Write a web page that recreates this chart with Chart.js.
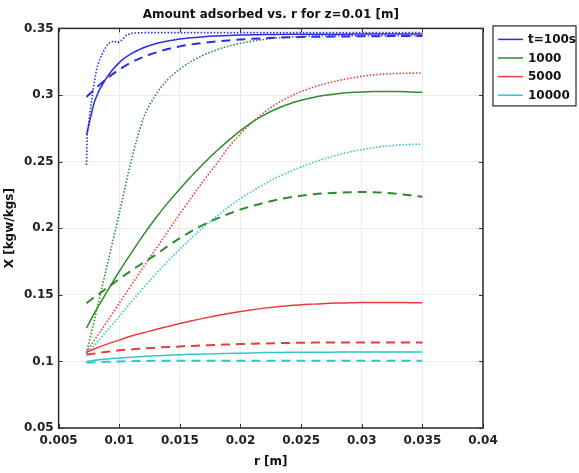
<!DOCTYPE html>
<html>
<head>
<meta charset="utf-8">
<script src="https://cdn.jsdelivr.net/npm/chart.js@4.4.0/dist/chart.umd.min.js"></script>
<style>
  html, body { margin: 0; padding: 0; background: #fff; }
  #container-grafico { width: 579px; height: 473px; }
</style>
</head>
<body>
<div id="container-grafico"><canvas id="grafico"></canvas></div>
<script>
// raio r [m] usado pela maioria das curvas
const raios = [0.0073, 0.008, 0.009, 0.010, 0.011, 0.012, 0.013, 0.014, 0.015, 0.016,
    0.017, 0.018, 0.019, 0.020, 0.021, 0.022, 0.023, 0.024, 0.025, 0.026,
    0.027, 0.028, 0.029, 0.030, 0.031, 0.032, 0.033, 0.034, 0.035];

// t=100s
const azulCheia = [0.270, 0.296, 0.3135, 0.3243, 0.331, 0.3355, 0.3385, 0.3405, 0.342, 0.343,
    0.3438, 0.3443, 0.3447, 0.345, 0.3452, 0.3454, 0.3455, 0.3456, 0.3457, 0.3457,
    0.3457, 0.3457, 0.3457, 0.3458, 0.3458, 0.3458, 0.3458, 0.3458, 0.3458];
const azulTracejada = [0.2985, 0.3045, 0.3125, 0.319, 0.3245, 0.3285, 0.3318, 0.3345, 0.3365, 0.338,
    0.3392, 0.3402, 0.341, 0.3417, 0.3422, 0.3426, 0.343, 0.3433, 0.3435, 0.3437,
    0.3438, 0.3439, 0.344, 0.3441, 0.3442, 0.3442, 0.3443, 0.3443, 0.3443];
// a pontilhada azul tem amostragem propria
const raiosAzulPontilhada = [0.0073, 0.00736, 0.0076, 0.00786, 0.00814, 0.0084, 0.00868, 0.0089, 0.0091, 0.0095,
    0.0099, 0.0102, 0.0106, 0.0111, 0.012, 0.014, 0.017, 0.020, 0.025, 0.030, 0.035];
const azulPontilhada = [0.2474, 0.270, 0.2874, 0.305, 0.320, 0.327, 0.3324, 0.336, 0.3387, 0.3404,
    0.3394, 0.3411, 0.3449, 0.3465, 0.3468, 0.3468, 0.3468, 0.3468, 0.3468, 0.3468, 0.3468];

// t=1000
const verdeCheia = [0.125, 0.137, 0.1525, 0.1675, 0.1815, 0.195, 0.2075, 0.219, 0.2295, 0.2395,
    0.249, 0.2578, 0.2658, 0.2732, 0.2798, 0.2853, 0.2897, 0.2932, 0.296, 0.2982,
    0.2998, 0.301, 0.3018, 0.3023, 0.3026, 0.3027, 0.3026, 0.3023, 0.302];
const verdeTracejada = [0.1437, 0.1485, 0.1552, 0.1618, 0.1682, 0.1742, 0.18, 0.1865, 0.1925, 0.198,
    0.2028, 0.207, 0.2107, 0.214, 0.2168, 0.2192, 0.2213, 0.223, 0.2243, 0.2254,
    0.2262, 0.2267, 0.227, 0.2271, 0.227, 0.2265, 0.2257, 0.2247, 0.2236];
const verdePontilhada = [0.106, 0.133, 0.172, 0.211, 0.251, 0.2825, 0.300, 0.3115, 0.3195, 0.3255,
    0.3302, 0.3338, 0.3366, 0.3388, 0.3405, 0.3418, 0.3428, 0.3435, 0.344, 0.3443,
    0.3445, 0.3445, 0.3445, 0.3445, 0.3445, 0.3445, 0.3445, 0.3445, 0.3445];

// t=5000
const vermelhaCheia = [0.107, 0.1095, 0.113, 0.116, 0.119, 0.1215, 0.124, 0.1262, 0.1285, 0.1305,
    0.1325, 0.1343, 0.136, 0.1375, 0.1388, 0.14, 0.141, 0.1418, 0.1425, 0.143,
    0.1435, 0.1438, 0.144, 0.1442, 0.1442, 0.1442, 0.1442, 0.1441, 0.144];
const vermelhaTracejada = [0.105, 0.106, 0.1072, 0.1083, 0.109, 0.1097, 0.1103, 0.1108, 0.1112, 0.1116,
    0.112, 0.1124, 0.1127, 0.113, 0.1132, 0.1135, 0.1137, 0.1139, 0.114, 0.1141,
    0.1142, 0.1142, 0.1142, 0.1142, 0.1142, 0.1142, 0.1142, 0.1142, 0.1142];
const vermelhaPontilhada = [0.107, 0.1165, 0.130, 0.1437, 0.1573, 0.1708, 0.1842, 0.1975, 0.2107, 0.2237,
    0.2362, 0.248, 0.2605, 0.2708, 0.2798, 0.2872, 0.2935, 0.2985, 0.3025, 0.3058,
    0.3085, 0.3107, 0.3125, 0.314, 0.3151, 0.3158, 0.3162, 0.3164, 0.3165];

// t=10000
const cianoCheia = [0.100, 0.1008, 0.1018, 0.1026, 0.1032, 0.1037, 0.1042, 0.1046, 0.105, 0.1053,
    0.1055, 0.1058, 0.106, 0.1062, 0.1064, 0.1066, 0.1067, 0.1068, 0.1068, 0.1069,
    0.1069, 0.107, 0.107, 0.107, 0.107, 0.107, 0.107, 0.107, 0.107];
const cianoTracejada = [0.099, 0.0993, 0.0997, 0.100, 0.1002, 0.1003, 0.1004, 0.1005, 0.1005, 0.1005,
    0.1005, 0.1005, 0.1005, 0.1005, 0.1005, 0.1005, 0.1005, 0.1005, 0.1005, 0.1005,
    0.1005, 0.1005, 0.1005, 0.1005, 0.1005, 0.1005, 0.1005, 0.1005, 0.1005];
const cianoPontilhada = [0.105, 0.1125, 0.1232, 0.1338, 0.1447, 0.1553, 0.1655, 0.1752, 0.1843, 0.193,
    0.2012, 0.2088, 0.2158, 0.2222, 0.228, 0.2333, 0.238, 0.2422, 0.246, 0.2494,
    0.2524, 0.255, 0.2572, 0.259, 0.2605, 0.2616, 0.2624, 0.2629, 0.2631];

// eixos
const ticksX = [0.005, 0.01, 0.015, 0.02, 0.025, 0.03, 0.035, 0.04];
const rotulosX = ["0.005", "0.01", "0.015", "0.02", "0.025", "0.03", "0.035", "0.04"];
const ticksY = [0.05, 0.1, 0.15, 0.2, 0.25, 0.3, 0.35];
const rotulosY = ["0.05", "0.1", "0.15", "0.2", "0.25", "0.3", "0.35"];

const legendaTextos = ["t=100s", "1000", "5000", "10000"];

const AZUL = 'rgb(45, 45, 225)';
const VERDE = 'rgb(45, 140, 45)';
const VERMELHO = 'rgb(235, 60, 60)';
const CIANO = 'rgb(45, 200, 200)';
const coresLegenda = [AZUL, VERDE, VERMELHO, CIANO];

const FONTE = "'DejaVu Sans', Verdana, sans-serif";

function pontos(xs, ys) {
    return xs.map((x, i) => ({ x: x, y: ys[i] }));
}

function serie(rotulo, xs, ys, cor, estilo) {
    let dash = [];
    let largura = 1.5;
    if (estilo == 'tracejada') { dash = [9, 6]; largura = 2; }
    if (estilo == 'pontilhada') { dash = [1.5, 1.8]; largura = 1.6; }
    return {
        label: rotulo,
        data: pontos(xs, ys),
        borderColor: cor,
        backgroundColor: cor,
        borderWidth: largura,
        borderDash: dash,
        pointRadius: 0,
        fill: false,
        cubicInterpolationMode: estilo == 'pontilhada' && cor == AZUL ? 'default' : 'monotone',
        tension: 0
    };
}

// moldura preta, ticks para dentro e a legenda com borda
const pluginMoldura = {
    id: 'moldura',
    afterDraw(chart) {
        const ctx = chart.ctx;
        const a = chart.chartArea;
        const sx = chart.scales.x;
        const sy = chart.scales.y;
        ctx.save();
        ctx.strokeStyle = '#333';
        ctx.lineWidth = 1;
        ctx.beginPath();
        ticksX.forEach(v => {
            const px = Math.round(sx.getPixelForValue(v)) + 0.5;
            ctx.moveTo(px, a.bottom); ctx.lineTo(px, a.bottom - 4);
            ctx.moveTo(px, a.top); ctx.lineTo(px, a.top + 4);
        });
        ticksY.forEach(v => {
            const py = Math.round(sy.getPixelForValue(v)) + 0.5;
            ctx.moveTo(a.left, py); ctx.lineTo(a.left + 4, py);
            ctx.moveTo(a.right, py); ctx.lineTo(a.right - 4, py);
        });
        ctx.stroke();

        ctx.lineWidth = 1.5;
        ctx.strokeStyle = '#2a2a2a';
        ctx.strokeRect(a.left, a.top, a.right - a.left, a.bottom - a.top);

        // legenda
        const lx = a.right + 10;
        const ly = a.top - 2.5;
        ctx.lineWidth = 1.2;
        ctx.strokeRect(lx, ly, 83, 80);
        ctx.font = "bold 12px " + FONTE;
        ctx.textBaseline = 'middle';
        ctx.textAlign = 'left';
        legendaTextos.forEach((txt, i) => {
            const y = ly + 13.5 + i * 18.6;
            ctx.strokeStyle = coresLegenda[i];
            ctx.lineWidth = 1.5;
            ctx.beginPath();
            ctx.moveTo(lx + 5, y);
            ctx.lineTo(lx + 30, y);
            ctx.stroke();
            ctx.fillStyle = '#111';
            ctx.fillText(txt, lx + 35, y + 0.5);
        });
        ctx.restore();
    }
};

const datasets = [
    serie('t=100s', raios, azulCheia, AZUL, 'cheia'),
    serie('t=100s tracejada', raios, azulTracejada, AZUL, 'tracejada'),
    serie('t=100s pontilhada', raiosAzulPontilhada, azulPontilhada, AZUL, 'pontilhada'),
    serie('1000', raios, verdeCheia, VERDE, 'cheia'),
    serie('1000 tracejada', raios, verdeTracejada, VERDE, 'tracejada'),
    serie('1000 pontilhada', raios, verdePontilhada, VERDE, 'pontilhada'),
    serie('5000', raios, vermelhaCheia, VERMELHO, 'cheia'),
    serie('5000 tracejada', raios, vermelhaTracejada, VERMELHO, 'tracejada'),
    serie('5000 pontilhada', raios, vermelhaPontilhada, VERMELHO, 'pontilhada'),
    serie('10000', raios, cianoCheia, CIANO, 'cheia'),
    serie('10000 tracejada', raios, cianoTracejada, CIANO, 'tracejada'),
    serie('10000 pontilhada', raios, cianoPontilhada, CIANO, 'pontilhada')
];

const ctx = document.getElementById('grafico').getContext('2d');
new Chart(ctx, {
    type: 'line',
    data: { datasets: datasets },
    options: {
        responsive: true,
        maintainAspectRatio: false,
        animation: false,
        devicePixelRatio: 1,
        layout: { padding: { left: 0, right: 96, top: 0, bottom: 0 } },
        plugins: {
            legend: { display: false },
            tooltip: { enabled: false },
            title: {
                display: true,
                fullSize: false,
                text: 'Amount adsorbed vs. r for z=0.01 [m]',
                font: { family: FONTE, size: 12, weight: 'bold' },
                color: '#111',
                padding: { top: 8, bottom: 6 }
            }
        },
        scales: {
            x: {
                type: 'linear',
                min: 0.005,
                max: 0.04,
                afterBuildTicks: (s) => { s.ticks = ticksX.map(v => ({ value: v })); },
                afterFit: (s) => { s.height = 45; },
                ticks: {
                    callback: (v, i) => rotulosX[i],
                    font: { family: FONTE, size: 12, weight: 'bold' },
                    color: '#222',
                    padding: 6,
                    maxRotation: 0,
                    autoSkip: false
                },
                grid: { color: '#ebebeb', lineWidth: 1, drawTicks: false },
                border: { display: false },
                title: {
                    display: true,
                    text: 'r [m]',
                    font: { family: FONTE, size: 12, weight: 'bold' },
                    color: '#111',
                    padding: { top: 0, bottom: 4 }
                }
            },
            y: {
                type: 'linear',
                min: 0.05,
                max: 0.35,
                afterBuildTicks: (s) => { s.ticks = ticksY.map(v => ({ value: v })); },
                afterFit: (s) => { s.width = 58.6; },
                ticks: {
                    callback: (v, i) => rotulosY[i],
                    font: { family: FONTE, size: 12, weight: 'bold' },
                    color: '#222',
                    padding: 5,
                    autoSkip: false
                },
                grid: { color: '#ebebeb', lineWidth: 1, drawTicks: false },
                border: { display: false },
                title: {
                    display: true,
                    text: 'X [kgw/kgs]',
                    font: { family: FONTE, size: 12, weight: 'bold' },
                    color: '#111',
                    padding: { top: 3, bottom: 0 }
                }
            }
        }
    },
    plugins: [pluginMoldura]
});
</script>
</body>
</html>
